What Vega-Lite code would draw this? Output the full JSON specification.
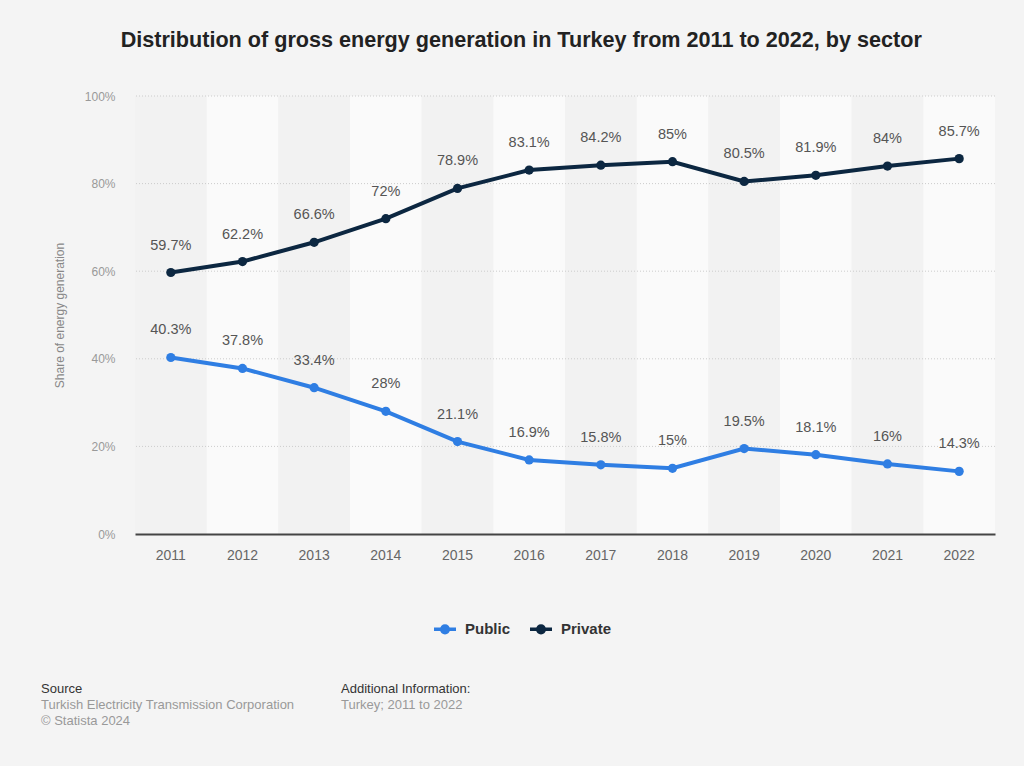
{
  "$schema": "https://vega.github.io/schema/vega-lite/v6.json",
  "background": "#f4f4f4",
  "padding": {"left": 41, "top": 30, "right": 29, "bottom": 38},
  "config": {
    "font": "Liberation Sans",
    "view": {"stroke": null}
  },
  "datasets": {
    "series": [
      {"year": 2011, "sector": "Public", "value": 40.3},
      {"year": 2012, "sector": "Public", "value": 37.8},
      {"year": 2013, "sector": "Public", "value": 33.4},
      {"year": 2014, "sector": "Public", "value": 28},
      {"year": 2015, "sector": "Public", "value": 21.1},
      {"year": 2016, "sector": "Public", "value": 16.9},
      {"year": 2017, "sector": "Public", "value": 15.8},
      {"year": 2018, "sector": "Public", "value": 15},
      {"year": 2019, "sector": "Public", "value": 19.5},
      {"year": 2020, "sector": "Public", "value": 18.1},
      {"year": 2021, "sector": "Public", "value": 16},
      {"year": 2022, "sector": "Public", "value": 14.3},
      {"year": 2011, "sector": "Private", "value": 59.7},
      {"year": 2012, "sector": "Private", "value": 62.2},
      {"year": 2013, "sector": "Private", "value": 66.6},
      {"year": 2014, "sector": "Private", "value": 72},
      {"year": 2015, "sector": "Private", "value": 78.9},
      {"year": 2016, "sector": "Private", "value": 83.1},
      {"year": 2017, "sector": "Private", "value": 84.2},
      {"year": 2018, "sector": "Private", "value": 85},
      {"year": 2019, "sector": "Private", "value": 80.5},
      {"year": 2020, "sector": "Private", "value": 81.9},
      {"year": 2021, "sector": "Private", "value": 84},
      {"year": 2022, "sector": "Private", "value": 85.7}
    ],
    "bands": [
      {"year": 2011, "shade": "a"}, {"year": 2012, "shade": "b"},
      {"year": 2013, "shade": "a"}, {"year": 2014, "shade": "b"},
      {"year": 2015, "shade": "a"}, {"year": 2016, "shade": "b"},
      {"year": 2017, "shade": "a"}, {"year": 2018, "shade": "b"},
      {"year": 2019, "shade": "a"}, {"year": 2020, "shade": "b"},
      {"year": 2021, "shade": "a"}, {"year": 2022, "shade": "b"}
    ],
    "grid": [
      {"level": 20}, {"level": 40}, {"level": 60}, {"level": 80}, {"level": 100}
    ]
  },
  "title": {
    "text": "Distribution of gross energy generation in Turkey from 2011 to 2022, by sector",
    "fontSize": 21.6,
    "fontWeight": "bold",
    "color": "#222222",
    "anchor": "middle",
    "dx": 3,
    "offset": 38
  },
  "resolve": {"legend": {"color": "independent"}},
  "spacing": 43,
  "vconcat": [
    {
      "width": 860,
      "height": 438,
      "layer": [
        {
          "data": {"name": "bands"},
          "mark": {"type": "bar"},
          "encoding": {
            "x": {"field": "year", "type": "ordinal"},
            "fill": {
              "field": "shade",
              "type": "nominal",
              "scale": {"domain": ["a", "b"], "range": ["#f2f2f2", "#fafafa"]},
              "legend": null
            }
          }
        },
        {
          "data": {"name": "grid"},
          "mark": {"type": "rule", "color": "#cccccc", "strokeWidth": 1, "strokeDash": [1, 2]},
          "encoding": {
            "y": {"field": "level", "type": "quantitative"}
          }
        },
        {
          "data": {"name": "series"},
          "mark": {"type": "line", "strokeWidth": 4, "point": {"filled": true, "size": 85}},
          "encoding": {
            "x": {
              "field": "year",
              "type": "ordinal",
              "scale": {"paddingInner": 0, "paddingOuter": 0},
              "axis": {
                "title": null,
                "labelAngle": 0,
                "labelAlign": "center",
                "labelFontSize": 14,
                "labelColor": "#666666",
                "ticks": false,
                "tickSize": 0,
                "labelPadding": 21,
                "domainColor": "#444444",
                "domainWidth": 2,
                "grid": false,
                "zindex": 1
              }
            },
            "y": {
              "field": "value",
              "type": "quantitative",
              "scale": {"domain": [0, 100], "nice": false},
              "axis": {
                "title": "Share of energy generation",
                "titleColor": "#888888",
                "titleFontSize": 12,
                "titleFontWeight": "normal",
                "titlePadding": 18,
                "values": [0, 20, 40, 60, 80, 100],
                "labelExpr": "datum.value + '%'",
                "labelFontSize": 12,
                "labelColor": "#999999",
                "labelPadding": 20,
                "ticks": false,
                "domain": false,
                "grid": false
              }
            },
            "color": {
              "field": "sector",
              "type": "nominal",
              "scale": {"domain": ["Public", "Private"], "range": ["#2f7ee3", "#0c2741"]},
              "legend": {
                "title": null,
                "orient": "none",
                "legendX": 297,
                "legendY": 520,
                "direction": "horizontal",
                "padding": 0,
                "labelFontSize": 15,
                "labelFontWeight": "bold",
                "labelColor": "#333333",
                "labelOffset": 7,
                "columnPadding": 12,
                "symbolType": "M-1,0 L1,0 M-0.3,0 A0.3,0.3 0 1,0 0.3,0 A0.3,0.3 0 1,0 -0.3,0",
                "symbolSize": 484,
                "symbolStrokeWidth": 3.5
              }
            }
          }
        },
        {
          "data": {"name": "series"},
          "mark": {
            "type": "text",
            "text": {"expr": "datum.value + '%'"},
            "dy": -27,
            "fontSize": 14.5,
            "color": "#555555",
            "baseline": "middle"
          },
          "encoding": {
            "x": {"field": "year", "type": "ordinal"},
            "y": {"field": "value", "type": "quantitative"}
          }
        }
      ]
    },
    {
      "spacing": 46,
      "hconcat": [
        {
          "width": 160,
          "height": 40,
          "data": {"values": [{}]},
          "mark": {"type": "text"},
          "encoding": {"text": {"value": ""}},
          "title": {
            "text": "Source",
            "subtitle": ["Turkish Electricity Transmission Corporation", "© Statista 2024"],
            "anchor": "start",
            "dx": -94,
            "fontSize": 13,
            "fontWeight": "normal",
            "color": "#333333",
            "subtitleFontSize": 13,
            "subtitleColor": "#999999",
            "subtitlePadding": 3,
            "subtitleLineHeight": 16,
            "offset": -40
          }
        },
        {
          "width": 160,
          "height": 40,
          "data": {"values": [{}]},
          "mark": {"type": "text"},
          "encoding": {"text": {"value": ""}},
          "title": {
            "text": "Additional Information:",
            "subtitle": "Turkey; 2011 to 2022",
            "anchor": "start",
            "fontSize": 13,
            "fontWeight": "normal",
            "color": "#333333",
            "subtitleFontSize": 13,
            "subtitleColor": "#999999",
            "subtitlePadding": 3,
            "subtitleLineHeight": 16,
            "offset": -24
          }
        }
      ]
    }
  ]
}
